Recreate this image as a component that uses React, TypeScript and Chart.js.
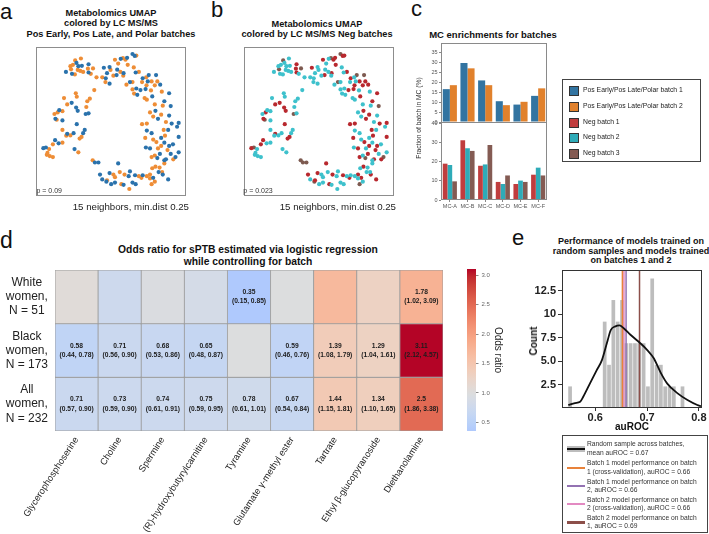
import React, { useEffect, useRef } from "react";
import { Chart, registerables } from "chart.js";

Chart.register(...registerables);

const FONT = '"Liberation Sans", Arial, Helvetica, sans-serif';
Chart.defaults.font.family = FONT;
Chart.defaults.color = "#333";

// ---------------- Panels a & b : UMAP embedding (same points, two colourings) ----------------
const umap1 = [
  205, 213, 220, 238, 224, 230, 262, 241, 228, 236,
  245, 191, 207, 210, 219, 260, 276, 262, 269, 287,
  310, 328, 345, 355, 363, 370, 378, 383, 400, 407,
  412, 385, 352, 340, 350, 362, 372, 371, 331, 320,
  305, 316, 328, 315, 404, 410, 420, 432, 443, 451,
  448, 430, 444, 460, 474, 487, 470, 400, 392, 381,
  400, 412, 405, 415, 425, 438, 445, 478, 441, 458,
  462, 492, 515, 500, 495, 520, 470, 472, 455, 465,
  480, 490, 515, 523, 545, 540, 505, 498, 512, 445,
  430, 445, 440, 460, 465, 475, 490, 502, 500, 515,
  527, 545, 490, 480, 510, 520, 535, 528, 545, 442,
  455, 470, 460, 478, 486, 500, 185, 195, 209, 222,
  225, 223, 228, 258, 266, 255, 253, 262, 280, 170,
  180, 155, 165, 158, 162, 180, 180, 195, 215, 225,
  205, 245, 240, 234, 250, 230, 218, 150, 180, 192,
  168, 157, 120, 128, 138, 131, 140, 150, 133, 275,
  282, 293, 355, 360, 328, 298, 340, 375, 388, 408,
  420, 432, 445, 455, 462, 472, 482, 485, 495, 500,
  505, 305, 320, 318, 345, 345, 333, 365, 372, 390,
  400, 410, 428, 455, 465, 470, 493, 512, 460, 392,
];
const umap2 = [
  100, 96, 82, 76, 90, 100, 94, 99, 112, 115,
  118, 118, 110, 124, 126, 108, 107, 120, 124, 135,
  105, 103, 80, 92, 77, 75, 80, 74, 62, 68,
  67, 96, 111, 130, 128, 118, 122, 130, 112, 122,
  135, 138, 155, 150, 104, 120, 118, 138, 135, 128,
  148, 150, 160, 148, 128, 158, 160, 150, 150, 158,
  173, 170, 186, 190, 175, 200, 205, 148, 172, 176,
  195, 180, 185, 210, 224, 225, 220, 240, 245, 258,
  265, 252, 255, 280, 278, 290, 275, 300, 300, 280,
  282, 302, 325, 310, 330, 338, 325, 318, 340, 350,
  345, 322, 350, 358, 363, 375, 385, 392, 370, 355,
  358, 380, 385, 388, 375, 395, 200, 220, 215, 185,
  196, 230, 240, 210, 202, 228, 250, 248, 175, 238,
  241, 250, 245, 265, 268, 270, 300, 312, 310, 282,
  317, 310, 322, 327, 300, 370, 360, 345, 340, 318,
  342, 332, 357, 355, 360, 378, 382, 385, 372, 395,
  402, 402, 405, 432, 435, 440, 440, 440, 445, 442,
  445, 442, 445, 440, 420, 415, 432, 418, 440, 405,
  392, 455, 458, 462, 448, 465, 470, 470, 472, 485,
  465, 470, 450, 452, 450, 462, 432, 455, 470, 430,
];
// LC MS/MS Pos Early / Pos Late / Polar batch (1 or 2)
const posBatch = [
  2, 2, 2, 2, 1, 1, 1, 1, 2, 2,
  2, 1, 2, 1, 2, 2, 2, 1, 2, 2,
  1, 1, 2, 2, 1, 2, 2, 1, 1, 1,
  2, 2, 1, 2, 1, 2, 1, 2, 2, 1,
  2, 1, 1, 2, 2, 1, 2, 1, 2, 1,
  1, 2, 2, 2, 1, 1, 2, 2, 1, 2,
  2, 1, 2, 1, 1, 2, 2, 2, 1, 2,
  1, 2, 1, 1, 2, 1, 2, 1, 2, 2,
  1, 2, 1, 1, 1, 1, 2, 2, 1, 2,
  2, 1, 2, 1, 2, 2, 1, 2, 1, 1,
  1, 1, 2, 2, 2, 1, 1, 2, 1, 1,
  1, 2, 2, 1, 1, 1, 2, 2, 1, 2,
  2, 1, 1, 2, 2, 2, 1, 1, 2, 1,
  2, 2, 2, 1, 2, 1, 2, 1, 1, 1,
  2, 1, 2, 2, 1, 2, 1, 2, 2, 2,
  1, 1, 1, 1, 2, 2, 2, 2, 2, 2,
  1, 1, 1, 2, 1, 1, 2, 2, 1, 1,
  2, 1, 2, 2, 2, 2, 1, 2, 1, 2,
  1, 1, 2, 1, 2, 1, 1, 2, 1, 2,
  1, 1, 2, 2, 1, 2, 2, 1, 2, 1,
];
// LC MS/MS Neg batch (1, 2 or 3)
const negBatch = [
  2, 2, 3, 2, 2, 2, 1, 2, 2, 2,
  2, 2, 3, 2, 2, 1, 3, 1, 2, 2,
  1, 2, 1, 2, 2, 3, 1, 1, 3, 1,
  1, 1, 2, 2, 1, 2, 1, 2, 2, 2,
  2, 2, 2, 2, 2, 2, 1, 1, 2, 3,
  2, 2, 1, 1, 3, 1, 1, 2, 3, 2,
  2, 2, 2, 2, 1, 2, 2, 1, 1, 2,
  1, 2, 1, 1, 2, 3, 2, 1, 2, 2,
  1, 1, 2, 1, 1, 2, 2, 1, 2, 1,
  1, 2, 1, 2, 2, 1, 2, 1, 2, 1,
  2, 1, 1, 2, 1, 2, 3, 1, 2, 2,
  1, 2, 1, 3, 1, 2, 2, 1, 1, 2,
  2, 1, 1, 2, 2, 2, 3, 2, 2, 2,
  2, 2, 1, 1, 3, 2, 2, 1, 2, 1,
  2, 2, 1, 1, 2, 2, 2, 1, 2, 2,
  2, 1, 1, 3, 2, 2, 2, 2, 2, 3,
  3, 3, 1, 2, 1, 1, 2, 1, 2, 1,
  2, 2, 2, 1, 2, 1, 2, 2, 1, 2,
  1, 2, 1, 3, 2, 2, 2, 1, 2, 2,
  2, 2, 1, 2, 1, 2, 2, 1, 3, 2,
];

// ---------------- Panel c : MC enrichments ----------------
const mcLabels = ["MC-A", "MC-B", "MC-C", "MC-D", "MC-E", "MC-F"];
const posBatch1Pct = [16.6, 29.8, 21.0, 10.5, 8.8, 13.2];
const posBatch2Pct = [18.6, 27.1, 18.6, 8.5, 10.2, 17.0];
const negBatch1Pct = [19.1, 31.4, 18.0, 9.5, 8.4, 13.3];
const negBatch2Pct = [18.4, 27.2, 18.7, 8.4, 10.2, 17.0];
const negBatch3Pct = [9.8, 25.8, 28.9, 12.9, 9.5, 12.9];

// ---------------- Panel d : odds ratios ----------------
const metabolites = [
  "Glycerophosphoserine", "Choline", "Spermine", "(R)-hydroxybutyrylcarnitine", "Tyramine",
  "Glutamate γ-methyl ester", "Tartrate", "Ethyl β-glucopyranoside", "Diethanolamine",
];
const cohorts = [
  ["White", "women,", "N = 51"],
  ["Black", "women,", "N = 173"],
  ["All", "women,", "N = 232"],
];
const orWhite = [1.05, 0.75, 0.95, 0.85, 0.35, 0.98, 1.68, 1.28, 1.78];
const orBlack = [0.58, 0.71, 0.68, 0.65, 0.99, 0.59, 1.39, 1.29, 3.11];
const orAll = [0.71, 0.73, 0.74, 0.75, 0.78, 0.67, 1.44, 1.34, 2.5];
const ciWhite = [null, null, null, null, "(0.15, 0.85)", null, null, null, "(1.02, 3.09)"];
const ciBlack = ["(0.44, 0.78)", "(0.56, 0.90)", "(0.53, 0.86)", "(0.48, 0.87)", null, "(0.46, 0.76)", "(1.08, 1.79)", "(1.04, 1.61)", "(2.12, 4.57)"];
const ciAll = ["(0.57, 0.90)", "(0.59, 0.90)", "(0.61, 0.91)", "(0.59, 0.95)", "(0.61, 1.01)", "(0.54, 0.84)", "(1.15, 1.81)", "(1.10, 1.65)", "(1.86, 3.38)"];
const colorbarTicks = [0.5, 1.0, 1.5, 2.0, 2.5, 3.0];

// ---------------- Panel e : model performance ----------------
const binCenters = [
  0.5516, 0.5600, 0.5683, 0.5766, 0.5850, 0.5933, 0.6016, 0.6100, 0.6183, 0.6267,
  0.6350, 0.6433, 0.6517, 0.6600, 0.6684, 0.6767, 0.6850, 0.6934, 0.7017, 0.7100,
  0.7184, 0.7267, 0.7350, 0.7434, 0.7517, 0.7600, 0.7684,
];
const binCounts = [
  2.3, 0, 0, 0, 0, 0, 0, 0, 9.2, 4.6,
  11.5, 9.2, 11.5, 6.9, 6.9, 6.9, 6.9, 6.9, 2.3, 13.8,
  4.6, 4.6, 2.3, 2.3, 2.3, 0, 2.3,
];
const kdeX = [0.548, 0.561, 0.571, 0.577, 0.590, 0.603, 0.613, 0.624, 0.630, 0.639, 0.647, 0.655, 0.668, 0.687, 0.700, 0.713, 0.726, 0.739, 0.759, 0.778, 0.797, 0.804];
const kdeY = [0.32, 0.53, 0.67, 1.2, 2.63, 4.04, 5.1, 7.2, 8.3, 8.7, 8.8, 8.5, 7.8, 6.9, 6.2, 5.3, 3.8, 2.6, 1.56, 0.85, 0.32, 0.2];
const modelNames = [
  "Batch 1 model performance on batch\n1 (cross-validation), auROC = 0.66",
  "Batch 1 model performance on batch\n2, auROC = 0.66",
  "Batch 2 model performance on batch\n2 (cross-validation), auROC = 0.66",
  "Batch 2 model performance on batch\n1, auROC = 0.69",
];
const modelAuroc = [0.6525, 0.6596, 0.6555, 0.6855];
const countTicks = [2.5, 5.0, 7.5, 10, 12.5];
const countTickLabels = ["2.5", "5.0", "7.5", "10", "12.5"];
const aurocTicks = [0.6, 0.7, 0.8];

// ---------------- styles ----------------
const C_BLUE = "#2a72ac";
const C_ORANGE = "#ee8d36";
const C_RED = "#b8282e";
const C_CYAN = "#3ec1cc";
const C_BROWN = "#7d5a50";
const C_POS1 = "#3274a1";
const C_POS2 = "#e1812c";
const C_NEG1 = "#c03d3e";
const C_NEG2 = "#2eabb8";
const C_NEG3 = "#845b53";
const MODEL_COLORS = ["#e8823a", "#9372b2", "#e38ac2", "#8c4f4a"];

const COOLWARM = [
  [59, 76, 192], [68, 90, 204], [77, 104, 215], [87, 117, 225], [98, 130, 234], [108, 142, 241],
  [119, 154, 247], [130, 165, 251], [141, 176, 254], [152, 185, 255], [163, 194, 255], [174, 201, 253],
  [184, 208, 249], [194, 213, 244], [204, 217, 238], [213, 219, 230], [221, 221, 221], [229, 216, 209],
  [236, 211, 197], [241, 204, 184], [245, 196, 172], [247, 187, 159], [247, 177, 147], [247, 166, 134],
  [244, 154, 123], [241, 141, 111], [236, 127, 99], [229, 112, 88], [222, 96, 77], [213, 80, 66],
  [203, 62, 56], [192, 40, 47], [180, 4, 38],
];
function coolwarm(p: number) {
  const q = Math.max(0, Math.min(1, p)) * (COOLWARM.length - 1);
  const i = Math.min(Math.floor(q), COOLWARM.length - 2);
  const t = q - i;
  const a = COOLWARM[i], b = COOLWARM[i + 1];
  const c = a.map((v, k) => Math.round(v + (b[k] - v) * t));
  return `rgb(${c[0]},${c[1]},${c[2]})`;
}
const allOdds = [...orWhite, ...orBlack, ...orAll];
const orMin = Math.min(...allOdds);
const orMax = Math.max(...allOdds);
const orCenter = 1;
const orRange = Math.max(orMax - orCenter, orCenter - orMin);
const oddsColor = (v: number) => coolwarm((v - (orCenter - orRange)) / (2 * orRange));
const heatRows = [
  { or: orWhite, ci: ciWhite },
  { or: orBlack, ci: ciBlack },
  { or: orAll, ci: ciAll },
];

function framePlugin(color: string, width = 1, sides: any = {}) {
  const s = { l: true, r: true, t: true, b: true, ...sides };
  return {
    id: "frame",
    afterDatasetsDraw(chart: any) {
      const { ctx, chartArea: a } = chart;
      const h = width / 2;
      const l = Math.round(a.left) + h, t = Math.round(a.top) + h;
      const r = Math.round(a.right) - h, b = Math.round(a.bottom) - h;
      ctx.save();
      ctx.strokeStyle = color;
      ctx.lineWidth = width;
      ctx.beginPath();
      if (s.l) { ctx.moveTo(l, t - h); ctx.lineTo(l, b + h); }
      if (s.r) { ctx.moveTo(r, t - h); ctx.lineTo(r, b + h); }
      if (s.t) { ctx.moveTo(l - h, t); ctx.lineTo(r + h, t); }
      if (s.b) { ctx.moveTo(l - h, b); ctx.lineTo(r + h, b); }
      ctx.stroke();
      ctx.restore();
    },
  };
}

const cellTextPlugin = {
  id: "cellText",
  afterDatasetsDraw(chart: any) {
    const ctx = chart.ctx;
    ctx.save();
    ctx.font = `bold 6.7px ${FONT}`;
    ctx.fillStyle = "#1c1c1c";
    ctx.textAlign = "center";
    ctx.textBaseline = "middle";
    heatRows.forEach((row, di) => {
      const meta = chart.getDatasetMeta(di);
      row.ci.forEach((ci: any, i: number) => {
        if (!ci) return;
        const el = meta.data[i];
        const cy = (el.y + el.base) / 2;
        ctx.fillText(String(row.or[i]), el.x, cy - 4.6);
        ctx.fillText(ci, el.x, cy + 4.6);
      });
    });
    ctx.restore();
  },
};

const baseOpts = () => ({
  animation: false,
  responsive: false,
  maintainAspectRatio: false,
  events: [],
});
const noPlugins = { legend: { display: false }, tooltip: { enabled: false }, title: { display: false } };

// fix an axis to an exact thickness and stop it from padding the chart area for its labels
const fixWidth = (w: number) => (s: any) => {
  s.width = w;
  s.paddingTop = 0; s.paddingBottom = 0;
};
const fixHeight = (h: number) => (s: any) => {
  s.height = h;
};

// ---------------- chart configs ----------------
function umapConfig(groups: any[], key: number[]) {
  return {
    type: "scatter",
    data: {
      datasets: groups.map((g) => ({
        label: g.label,
        data: umap1.map((x, i) => ({ x, y: umap2[i], k: key[i] })).filter((p) => p.k === g.batch),
        backgroundColor: g.color,
        borderWidth: 0,
        pointRadius: 2.1,
      })),
    },
    options: {
      ...baseOpts(),
      layout: { padding: 0 },
      plugins: noPlugins,
      scales: {
        x: { type: "linear", display: false, min: 97, max: 568 },
        y: { type: "linear", display: false, min: 40, max: 507, reverse: true },
      },
    },
    plugins: [framePlugin("#8d8d8d", 1)],
  };
}

const smallTicks = { font: { size: 5.5 }, color: "#555" };

function mcTopConfig() {
  return {
    type: "bar",
    data: {
      labels: mcLabels,
      datasets: [
        { label: "Pos Early/Pos Late/Polar batch 1", data: posBatch1Pct, backgroundColor: C_POS1 },
        { label: "Pos Early/Pos Late/Polar batch 2", data: posBatch2Pct, backgroundColor: C_POS2 },
      ],
    },
    options: {
      ...baseOpts(),
      plugins: noPlugins,
      datasets: { bar: { barPercentage: 1, categoryPercentage: 0.8 } },
      layout: { padding: { top: 5, right: 2, bottom: 6, left: 0 } },
      scales: {
        x: { display: false },
        y: {
          min: 0, max: 39.9,
          ticks: { ...smallTicks, stepSize: 5, includeBounds: false, padding: 1.5 },
          grid: { drawOnChartArea: false, tickLength: 2, color: "#888" },
          border: { display: false },
          afterFit: fixWidth(16),
        },
      },
    },
    plugins: [framePlugin("#8a8a8a", 1, { b: false })],
  };
}

function mcBottomConfig() {
  return {
    type: "bar",
    data: {
      labels: mcLabels,
      datasets: [
        { label: "Neg batch 1", data: negBatch1Pct, backgroundColor: C_NEG1 },
        { label: "Neg batch 2", data: negBatch2Pct, backgroundColor: C_NEG2 },
        { label: "Neg batch 3", data: negBatch3Pct, backgroundColor: C_NEG3 },
      ],
    },
    options: {
      ...baseOpts(),
      plugins: noPlugins,
      datasets: { bar: { barPercentage: 1, categoryPercentage: 0.8 } },
      layout: { padding: { top: 6, right: 2, bottom: 0, left: 0 } },
      scales: {
        x: {
          ticks: { ...smallTicks, padding: 1, maxRotation: 0, autoSkip: false },
          grid: { drawOnChartArea: false, tickLength: 2, color: "#888", offset: false },
          border: { display: false },
          afterFit: fixHeight(12),
        },
        y: {
          min: 0, max: 41,
          ticks: { ...smallTicks, stepSize: 10, includeBounds: false, padding: 1.5 },
          grid: { drawOnChartArea: false, tickLength: 2, color: "#888" },
          border: { display: false },
          afterFit: fixWidth(16),
        },
      },
    },
    plugins: [framePlugin("#8a8a8a", 1)],
  };
}

function heatmapConfig() {
  return {
    type: "bar",
    data: {
      labels: metabolites,
      datasets: heatRows.map((row, di) => ({
        label: cohorts[di].join(" "),
        data: row.or.map(() => 1),
        backgroundColor: row.or.map(oddsColor),
        borderColor: "#9c9c9c",
        borderWidth: 0.8,
        borderSkipped: false,
        barPercentage: 1,
        categoryPercentage: 1,
      })),
    },
    options: {
      ...baseOpts(),
      plugins: noPlugins,
      layout: { padding: { top: 8, right: 12, left: 0, bottom: 0 } },
      scales: {
        x: {
          stacked: true,
          grid: { display: false, drawTicks: false },
          border: { display: false },
          ticks: { autoSkip: false, minRotation: 57, maxRotation: 57, padding: 4, color: "#222", font: { size: 9.3 } },
          afterFit: fixHeight(103),
        },
        y: {
          stacked: true, min: 0, max: 3, reverse: true,
          grid: { display: false, drawTicks: false },
          border: { display: false },
          afterBuildTicks: (s: any) => { s.ticks = cohorts.map((_c, i) => ({ value: i + 0.5 })); },
          ticks: {
            callback: (_v: any, i: number) => cohorts[i],
            crossAlign: "center", padding: 7, color: "#222",
            font: { size: 12, lineHeight: 1.17 },
          },
          afterFit: fixWidth(55),
        },
      },
    },
    plugins: [cellTextPlugin],
  };
}

function colorbarConfig() {
  return {
    type: "bar",
    data: {
      labels: ["Odds ratio"],
      datasets: [{
        data: [[orMin, orMax]],
        backgroundColor: (c: any) => {
          const ch = c.chart;
          const ys = ch.scales && ch.scales.y;
          if (!ch.chartArea || !ys) return "#ddd";
          const g = ch.ctx.createLinearGradient(0, ys.getPixelForValue(orMin), 0, ys.getPixelForValue(orMax));
          const n = 40;
          for (let k = 0; k <= n; k++) g.addColorStop(k / n, oddsColor(orMin + ((orMax - orMin) * k) / n));
          return g;
        },
        borderWidth: 0,
        barPercentage: 1,
        categoryPercentage: 1,
      }],
    },
    options: {
      ...baseOpts(),
      plugins: noPlugins,
      layout: { padding: { left: 5, top: 7, bottom: 11, right: 0 } },
      scales: {
        x: { display: false },
        y: {
          position: "right", min: orMin, max: orMax,
          afterBuildTicks: (s: any) => { s.ticks = colorbarTicks.map((v) => ({ value: v })); },
          ticks: { callback: (v: number) => v.toFixed(1), font: { size: 6 }, color: "#666", padding: 3 },
          grid: { drawOnChartArea: false, tickLength: 2.5, color: "#888" },
          border: { display: false },
          title: { display: true, text: "Odds ratio", font: { size: 10 }, color: "#222", padding: 0 },
          afterFit: fixWidth(28),
        },
      },
    },
  };
}

function perfConfig() {
  return {
    type: "bar",
    data: {
      datasets: [
        {
          type: "line", label: "Random sample across batches, mean auROC = 0.67",
          data: kdeX.map((x, i) => ({ x, y: kdeY[i] })),
          borderColor: "#111", borderWidth: 1.8, pointRadius: 0, tension: 0.4,
          cubicInterpolationMode: "monotone", fill: false,
        },
        ...modelAuroc.map((v, i) => ({
          type: "line", label: modelNames[i],
          data: [{ x: v, y: 0 }, { x: v, y: 14.7 }],
          borderColor: MODEL_COLORS[i], borderWidth: 1.5, pointRadius: 0, fill: false,
        })),
        {
          type: "bar", label: "Random sample counts",
          data: binCenters.map((x, i) => ({ x, y: binCounts[i] })),
          backgroundColor: "#bdbdbd", borderWidth: 0, barPercentage: 1, categoryPercentage: 0.86,
        },
      ],
    },
    options: {
      ...baseOpts(),
      plugins: noPlugins,
      layout: { padding: { top: 8, right: 7, left: 0, bottom: 0 } },
      scales: {
        x: {
          type: "linear", min: 0.536, max: 0.806, offset: false,
          grid: { drawOnChartArea: false, tickLength: 3, color: "#333", offset: false },
          border: { display: false },
          afterBuildTicks: (s: any) => { s.ticks = aurocTicks.map((v) => ({ value: v })); },
          ticks: { callback: (v: number) => v.toFixed(1), font: { size: 11, weight: "bold" }, color: "#222", padding: 0, maxRotation: 0 },
          afterFit: fixHeight(32),
        },
        y: {
          min: 0, max: 14.7,
          grid: { drawOnChartArea: false, tickLength: 4, color: "#333" },
          border: { display: false },
          afterBuildTicks: (s: any) => { s.ticks = countTicks.map((v) => ({ value: v })); },
          ticks: { callback: (_v: any, i: number) => countTickLabels[i], font: { size: 11, weight: "bold" }, color: "#222", padding: 2 },
          afterFit: fixWidth(49),
        },
      },
    },
    plugins: [framePlugin("#333", 1)],
  };
}

// ---------------- components ----------------
function ChartCanvas({ left, top, width, height, make }: any) {
  const ref = useRef<HTMLCanvasElement>(null);
  useEffect(() => {
    if (!ref.current) return;
    const chart = new Chart(ref.current, make());
    return () => chart.destroy();
  }, []);
  return (
    <canvas
      ref={ref}
      width={width}
      height={height}
      style={{ position: "absolute", left, top, width, height, display: "block" }}
    />
  );
}

function Txt({ x, y, s, b = false, a = "l", c = "#111", lh, children }: any) {
  const lineH = lh ?? s * 1.2;
  const tx = a === "c" ? "-50%" : a === "r" ? "-100%" : "0";
  return (
    <div
      style={{
        position: "absolute", left: x, top: y - lineH / 2, fontSize: s,
        fontWeight: b ? 700 : 400, lineHeight: `${lineH}px`, color: c, whiteSpace: "pre",
        textAlign: a === "c" ? "center" : a === "r" ? "right" : "left",
        transform: `translateX(${tx})`,
      }}
    >
      {children}
    </div>
  );
}

function RotTxt({ x, y, s, b = false, c = "#111", deg = -90, children }: any) {
  return (
    <div
      style={{
        position: "absolute", left: x, top: y, fontSize: s, fontWeight: b ? 700 : 400,
        lineHeight: 1, color: c, whiteSpace: "pre",
        transform: `translate(-50%, -50%) rotate(${deg}deg)`,
      }}
    >
      {children}
    </div>
  );
}

const legendC = [
  { label: "Pos Early/Pos Late/Polar batch 1", color: C_POS1 },
  { label: "Pos Early/Pos Late/Polar batch 2", color: C_POS2 },
  { label: "Neg batch 1", color: C_NEG1 },
  { label: "Neg batch 2", color: C_NEG2 },
  { label: "Neg batch 3", color: C_NEG3 },
];

export default function App() {
  return (
    <div
      style={{
        position: "fixed", left: 0, top: 0, width: 709, height: 534, background: "#fff",
        fontFamily: FONT, color: "#111", overflow: "hidden",
      }}
    >
      {/* panel letters */}
      <Txt x={0} y={12} s={22} lh={22}>a</Txt>
      <Txt x={211} y={10} s={22} lh={22}>b</Txt>
      <Txt x={411} y={9} s={22} lh={22}>c</Txt>
      <Txt x={0} y={240.5} s={23} lh={23}>d</Txt>
      <Txt x={512} y={238} s={22} lh={22}>e</Txt>

      {/* panel a */}
      <Txt x={111} y={13} s={9.2} b a="c" lh={10.8}>{"Metabolomics UMAP\ncolored by LC MS/MS\nPos Early, Pos Late, and Polar batches"}</Txt>
      <ChartCanvas
        left={32} top={43} width={158} height={157}
        make={() => umapConfig([
          { label: "Pos batch 1", color: C_BLUE, batch: 1 },
          { label: "Pos batch 2", color: C_ORANGE, batch: 2 },
        ], posBatch)}
      />
      <Txt x={36.5} y={190.7} s={7} c="#333">p = 0.09</Txt>
      <Txt x={189} y={206.7} s={9.7} a="r" c="#222">15 neighbors, min.dist 0.25</Txt>

      {/* panel b */}
      <Txt x={317} y={24} s={9.2} b a="c" lh={10.8}>{"Metabolomics UMAP\ncolored by LC MS/MS Neg batches"}</Txt>
      <ChartCanvas
        left={240} top={43} width={158} height={157}
        make={() => umapConfig([
          { label: "Neg batch 2", color: C_CYAN, batch: 2 },
          { label: "Neg batch 1", color: C_RED, batch: 1 },
          { label: "Neg batch 3", color: C_BROWN, batch: 3 },
        ], negBatch)}
      />
      <Txt x={243.3} y={190.7} s={7} c="#333">p = 0.023</Txt>
      <Txt x={396} y={206.7} s={9.7} a="r" c="#222">15 neighbors, min.dist 0.25</Txt>

      {/* panel c */}
      <Txt x={493} y={34.5} s={9.5} b a="c">MC enrichments for batches</Txt>
      <ChartCanvas left={425} top={38} width={124} height={90} make={mcTopConfig} />
      <ChartCanvas left={425} top={116} width={124} height={96} make={mcBottomConfig} />
      <RotTxt x={419} y={118} s={6.7} c="#333">Fraction of batch in MC (%)</RotTxt>
      <div style={{ position: "absolute", left: 562, top: 79, width: 139, height: 83, border: "1px solid #444", boxSizing: "border-box" }}>
        {legendC.map((e, i) => (
          <div key={i}>
            <div style={{ position: "absolute", left: 6, top: 6.3 + i * 15.6, width: 10, height: 10, background: e.color, border: "1px solid #333", boxSizing: "border-box" }} />
            <Txt x={20} y={10.5 + i * 15.6} s={6.8} c="#222">{e.label}</Txt>
          </div>
        ))}
      </div>

      {/* panel d */}
      <Txt x={248} y={250} s={10.3} b a="c" lh={12.7}>{"Odds ratio for sPTB estimated via logistic regression\nwhile controlling for batch"}</Txt>
      <ChartCanvas left={0} top={262} width={455} height={272} make={heatmapConfig} />
      <ChartCanvas left={462} top={262} width={42} height={180} make={colorbarConfig} />

      {/* panel e */}
      <Txt x={631} y={241.7} s={9} b a="c" lh={9.7}>{"Performance of models trained on\nrandom samples and models trained\non batches 1 and 2"}</Txt>
      <ChartCanvas left={513} top={262} width={196} height={178} make={perfConfig} />
      <RotTxt x={534} y={341} s={10} b c="#111">Count</RotTxt>
      <Txt x={632} y={426.7} s={10} b a="c">auROC</Txt>
      <div style={{ position: "absolute", left: 562, top: 435, width: 146, height: 98, border: "1px solid #444", boxSizing: "border-box" }}>
        <div style={{ position: "absolute", left: 4, top: 9.8, width: 18, height: 6, background: "#bdbdbd" }} />
        <div style={{ position: "absolute", left: 4, top: 11.6, width: 18, height: 2.4, background: "#111" }} />
        <Txt x={24} y={8.5} s={6.7} lh={8.2} c="#333">{"Random sample across batches,\nmean auROC = 0.67"}</Txt>
        {modelNames.map((name, i) => (
          <div key={i}>
            <div style={{ position: "absolute", left: 4, top: 30.5 + i * 18.2, width: 18, height: 2.6, background: MODEL_COLORS[i] }} />
            <Txt x={24} y={27.4 + i * 18.2} s={6.7} lh={8.2} c="#333">{name}</Txt>
          </div>
        ))}
      </div>
    </div>
  );
}
